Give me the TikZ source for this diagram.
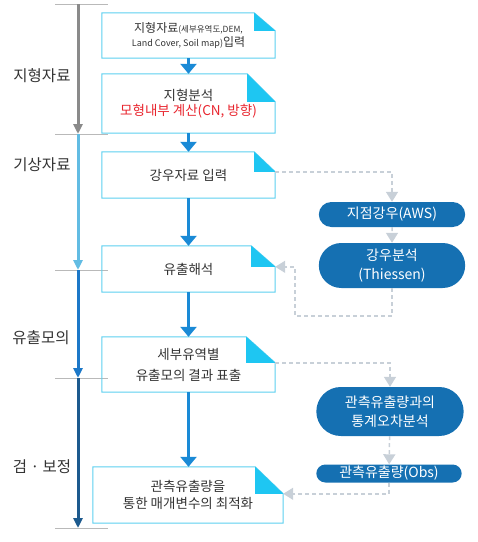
\documentclass[tikz,border=0pt]{standalone}
\usepackage{fontspec}
\setmainfont{Noto Sans CJK KR}
\usetikzlibrary{arrows.meta, shapes.misc}

\definecolor{boxline}{HTML}{5CCFEF}
\definecolor{foldcyan}{HTML}{1EC6F2}
\definecolor{flowblue}{HTML}{1A8AD6}
\definecolor{pillblue}{HTML}{1570B2}
\definecolor{dashgray}{HTML}{C8D0D8}
\definecolor{txtgray}{HTML}{333333}
\definecolor{calcred}{HTML}{E8252E}
\definecolor{axisgray}{HTML}{8A8A8A}
\definecolor{axislight}{HTML}{62BCE3}
\definecolor{axismid}{HTML}{1C78C8}
\definecolor{axisdark}{HTML}{1D5A8E}

\begin{document}
\begin{tikzpicture}[x=1pt, y=-1pt,
    box/.style={minimum width=173pt, inner sep=0pt, align=center, text=txtgray, font=\fontsize{13.5}{21}\selectfont},
    pill/.style={rounded rectangle, fill=pillblue, text=white, minimum width=153pt, inner ysep=1pt, align=center, font=\fontsize{14}{19}\selectfont},
    side/.style={text=txtgray, font=\fontsize{15.5}{17}\selectfont},
    flow/.style={draw=flowblue, line width=3.5pt, -{Triangle[width=16pt,length=10pt]}},
    dashflow/.style={draw=dashgray, line width=1.5pt, dash pattern=on 4pt off 3pt, -{Triangle[width=12pt,length=10pt,fill=dashgray]}},
    axis/.style={line width=3pt, -{Triangle[width=9pt,length=10pt]}}]

    \useasboundingbox (0,0) rectangle (478,542);

    % left axis: stage marks
    \foreach \t/\y in {t0/4, t1/134, t2/270, t3/378, t4/528} {
        \coordinate (\t) at (78,\y);
        \draw[axisgray!60, line width=0.8pt] (55,\y) -- (108,\y);
    }
    \draw[axis, axisgray] (t0) -- (t1);
    \draw[axis, axislight] (t1) -- (t2);
    \draw[axis, axismid] (t2) -- (t3);
    \draw[axis, axisdark] (t3) -- (t4);

    % stage labels
    \node[side] (l1) at (42,76) {지형자료};
    \node[side] (l2) at (42,165) {기상자료};
    \node[side] (l3) at (41,338) {유출모의};
    \node[side] (l4) at (42,467) {검 · 보정};

    % main steps
    \node[box, minimum height=45pt, font=\fontsize{12}{18}\selectfont] (b1) at (188.5,35.5) {지형자료{\fontsize{8.5}{18}\selectfont(세부유역도,DEM,}\\[-4pt]{\fontsize{9}{18}\selectfont Land Cover, Soil map)}입력};
    \node[box, minimum height=59pt] (b2) at (188.5,103.5) {지형분석\\[-6pt]\textcolor{calcred}{모형내부 계산(CN, 방향)}};
    \node[box, minimum height=46pt] (b3) at (188.5,175) {강우자료 입력};
    \node[box, minimum height=46pt] (b4) at (188.5,269) {유출해석};
    \node[box, minimum height=55pt] (b5) at (188.5,364.5) {세부유역별\\유출모의 결과 표출};
    \node[box, minimum height=56pt, minimum width=190pt] (b6) at (188,495) {관측유출량을\\[-4pt]통한 매개변수의 최적화};

    % box outline with folded corner
    \foreach \n/\fw/\fh in {b1/21/18, b2/28/28, b3/21/20, b4/24/21, b5/29/26, b6/28/27} {
        \draw[boxline, line width=1pt] (\n.north west) -- ([xshift=-\fw pt]\n.north east) -- ([yshift=-\fh pt]\n.north east) -- (\n.south east) -- (\n.south west) -- cycle;
        \fill[foldcyan] ([xshift=-\fw pt]\n.north east) -- ([xshift=-\fw pt, yshift=-\fh pt]\n.north east) -- ([yshift=-\fh pt]\n.north east) -- cycle;
    }

    % rainfall and observation side steps
    \node[pill, minimum height=25pt] (r1) at (392,214.5) {지점강우(AWS)};
    \node[pill, minimum height=45pt] (r2) at (392,265.5) {강우분석\\(Thiessen)};
    \node[pill, minimum height=49pt, minimum width=154pt] (r3) at (390,411.5) {관측유출량과의\\통계오차분석};
    \node[pill, minimum height=18pt, minimum width=152pt] (r4) at (389,473.5) {관측유출량(Obs)};

    % main flow
    \draw[flow] (b1) -- (b2);
    \draw[flow] (b2) -- (b3);
    \draw[flow] (b3) -- (b4);
    \draw[flow] (b4) -- (b5);
    \draw[flow] (b5.south) -- (b5.south |- b6.north);

    % side flow
    \coordinate (c1) at (295,316);
    \draw[dashflow] ([yshift=-20pt]b3.north east) -| (r1);
    \draw[dashflow] (r1) -- (r2);
    \draw[dashflow] (r2.south) |- (c1) |- ([yshift=-21pt]b4.north east);
    \draw[dashflow] ([yshift=-26pt]b5.north east) -| (r3);
    \draw[dashflow] (r3) -- (r4);
    \draw[dashflow] (r4.south) |- ([yshift=-27pt]b6.north east);
\end{tikzpicture}
\end{document}
